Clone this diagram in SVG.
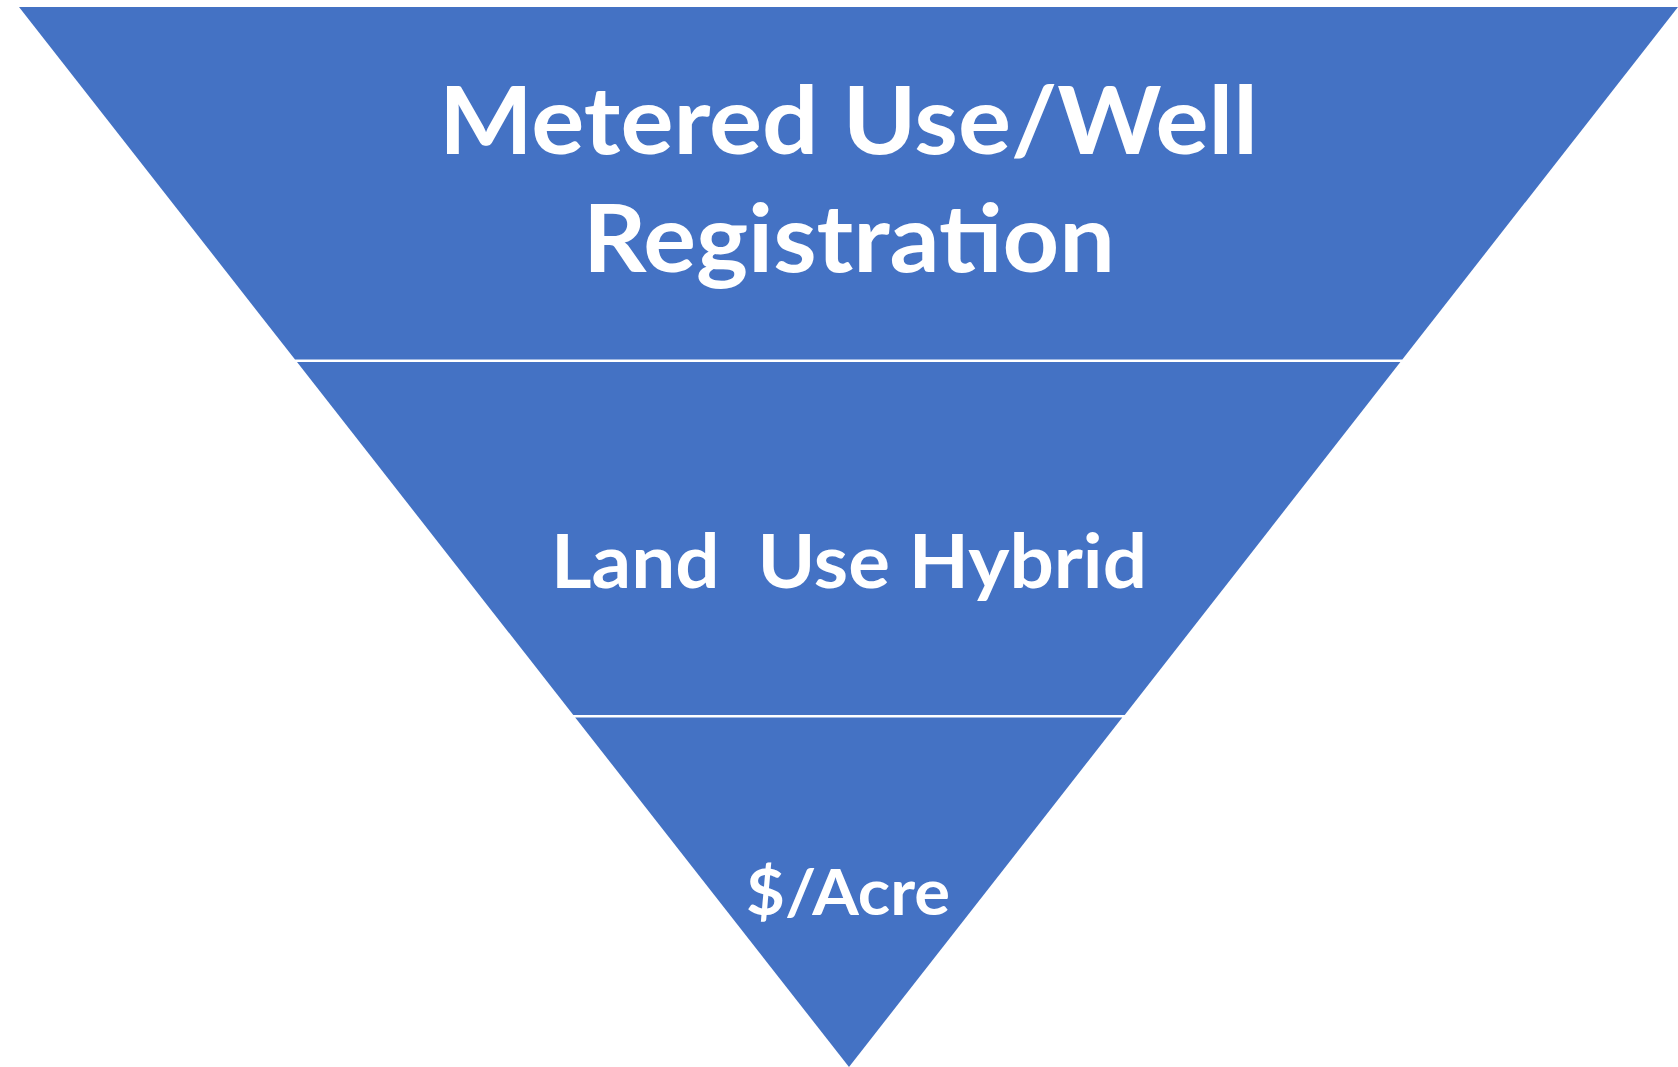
<svg xmlns="http://www.w3.org/2000/svg" width="1678" height="1067" viewBox="0 0 1678 1067">
  <style>
    .tier { fill: #4472C4; }
    .lbl { fill: #FFFFFF; font-family: "Lato", "Open Sans", "Liberation Sans", sans-serif; font-weight: bold; text-anchor: start; white-space: pre; }
  </style>
  <rect x="0" y="0" width="1678" height="1067" fill="#FFFFFF"/>
  <g id="tier-top">
    <polygon class="tier" points="19,7 1678,7 1402.3,359.5 295,359.5"/>
    <text class="lbl" x="439" y="154" font-size="93" textLength="819" lengthAdjust="spacingAndGlyphs">Metered Use/Well</text>
    <text class="lbl" x="583" y="272" font-size="93" textLength="532" lengthAdjust="spacingAndGlyphs">Registration</text>
  </g>
  <g id="tier-middle">
    <polygon class="tier" points="297,362 1400.4,362 1124.7,715 573.3,715"/>
    <text class="lbl" x="551" y="588" font-size="74" textLength="596" lengthAdjust="spacingAndGlyphs">Land  Use Hybrid</text>
  </g>
  <g id="tier-bottom">
    <polygon class="tier" points="575.2,717.5 1122.3,717.5 849,1067"/>
    <text class="lbl" x="746" y="915" font-size="64" textLength="204" lengthAdjust="spacingAndGlyphs">$/Acre</text>
  </g>
  <g id="connectors"></g>
</svg>
